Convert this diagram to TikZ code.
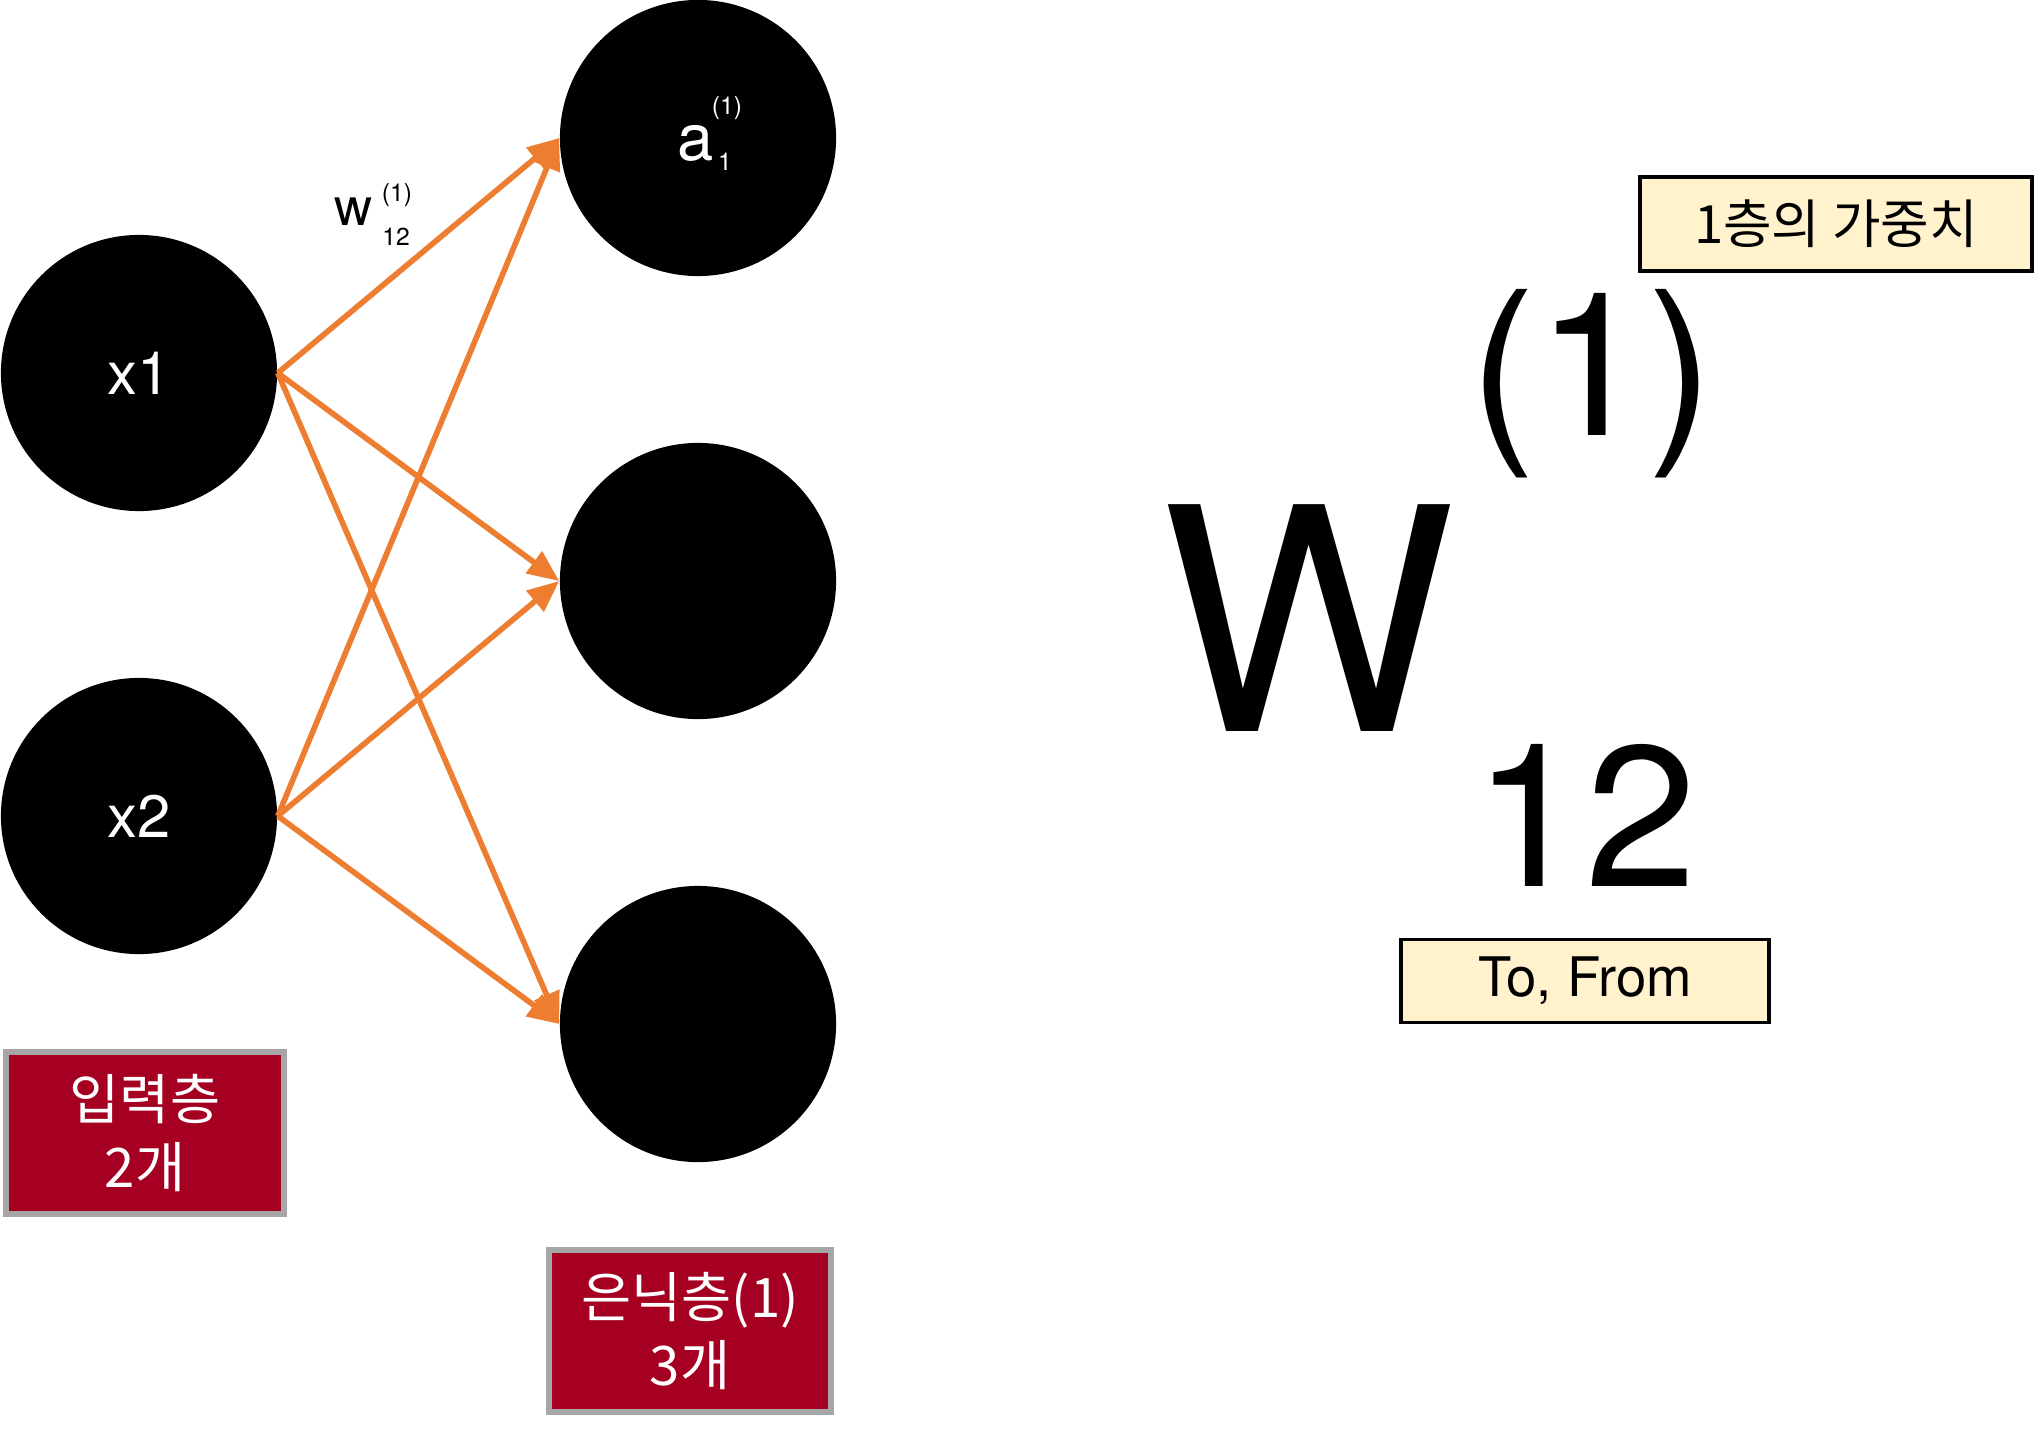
\documentclass[tikz,border=0pt]{standalone}
\usepackage{fontspec}
\usepackage{xcolor}
\usepackage{tikz}
\usetikzlibrary{arrows.meta}
\setmainfont{TeX Gyre Heros}
\newfontfamily\kr{Noto Sans CJK KR}

\definecolor{wire}{HTML}{ED7D31}
\definecolor{layerred}{HTML}{A50021}
\definecolor{layergray}{HTML}{A6A6A6}
\definecolor{notefill}{HTML}{FFF2CC}

\tikzset{
  neuron/.style={circle,fill=black,minimum size=2.76cm,inner sep=0pt,text=white,font=\fontsize{17}{17}\selectfont},
  weight/.style={-{Triangle[length=9pt,width=7.5pt]},color=wire,line width=1.6pt},
  layerbox/.style={draw=layergray,fill=layerred,line width=1.7pt,text=white,align=center,
    font=\kr\fontsize{15.5}{19.5}\selectfont},
  notebox/.style={draw=black,fill=notefill,line width=1.1pt,text=black,align=center},
  tiny/.style={inner sep=0pt,font=\fontsize{7}{7}\selectfont}
}

\begin{document}
\begin{tikzpicture}[x=0.01cm,y=-0.01cm]
% fix the page to the reference size
\useasboundingbox (0,0) rectangle (2037,1430);

% input layer
\node[neuron] (x1) at (139,373) {x1};
\node[neuron] (x2) at (139,816) {x2};

% hidden layer (1)
\node[neuron] (a1) at (698,138) {};
\node[neuron] (a2) at (698,581) {};
\node[neuron] (a3) at (698,1024) {};

% label of a1
\node[inner sep=0pt,text=white,anchor=base,font=\fontsize{18.5}{18.5}\selectfont] (a1txt) at (696,160) {a};
\node[tiny,text=white] (a1sup) at (727,108) {(1)};
\node[tiny,text=white] (a1sub) at (725,162) {1};

% weights from every input to every hidden neuron
\foreach \i in {1,2}
  \foreach \j in {1,2,3}
    \draw[weight] (x\i.east) -- (a\j.west);

% label of one weight
\node[inner sep=0pt,anchor=base,font=\fontsize{15}{15}\selectfont] (wtxt) at (354,225) {w};
\node[tiny] (wsup) at (397,195) {(1)};
\node[tiny] (wsub) at (396,237) {12};

% layer boxes
\node[layerbox,minimum width=2.78cm,minimum height=1.61cm] (inbox) at (145,1133) {입력층\\2개};
\node[layerbox,minimum width=2.81cm,minimum height=1.61cm] (hidbox) at (690,1331) {은닉층(1)\\3개};

% big weight symbol
\node[inner sep=0pt,anchor=base,font=\fontsize{88.5}{88.5}\selectfont] (bigw) at (1308,731) {W};
\node[inner sep=0pt,anchor=base,font=\fontsize{57}{57}\selectfont] (bigsup) at (1592,435) {(1)};
\node[inner sep=0pt,anchor=base,font=\fontsize{57}{57}\selectfont] (bigsub) at (1585,886) {12};

% notes
\node[notebox,minimum width=3.91cm,minimum height=0.94cm,font=\kr\fontsize{15}{15}\selectfont] (layernote) at (1836,224) {1층의 가중치};
\node[notebox,minimum width=3.68cm,minimum height=0.83cm,font=\fontsize{15.5}{15.5}\selectfont] (tofrom) at (1585,981) {To, From};

\end{tikzpicture}
\end{document}
